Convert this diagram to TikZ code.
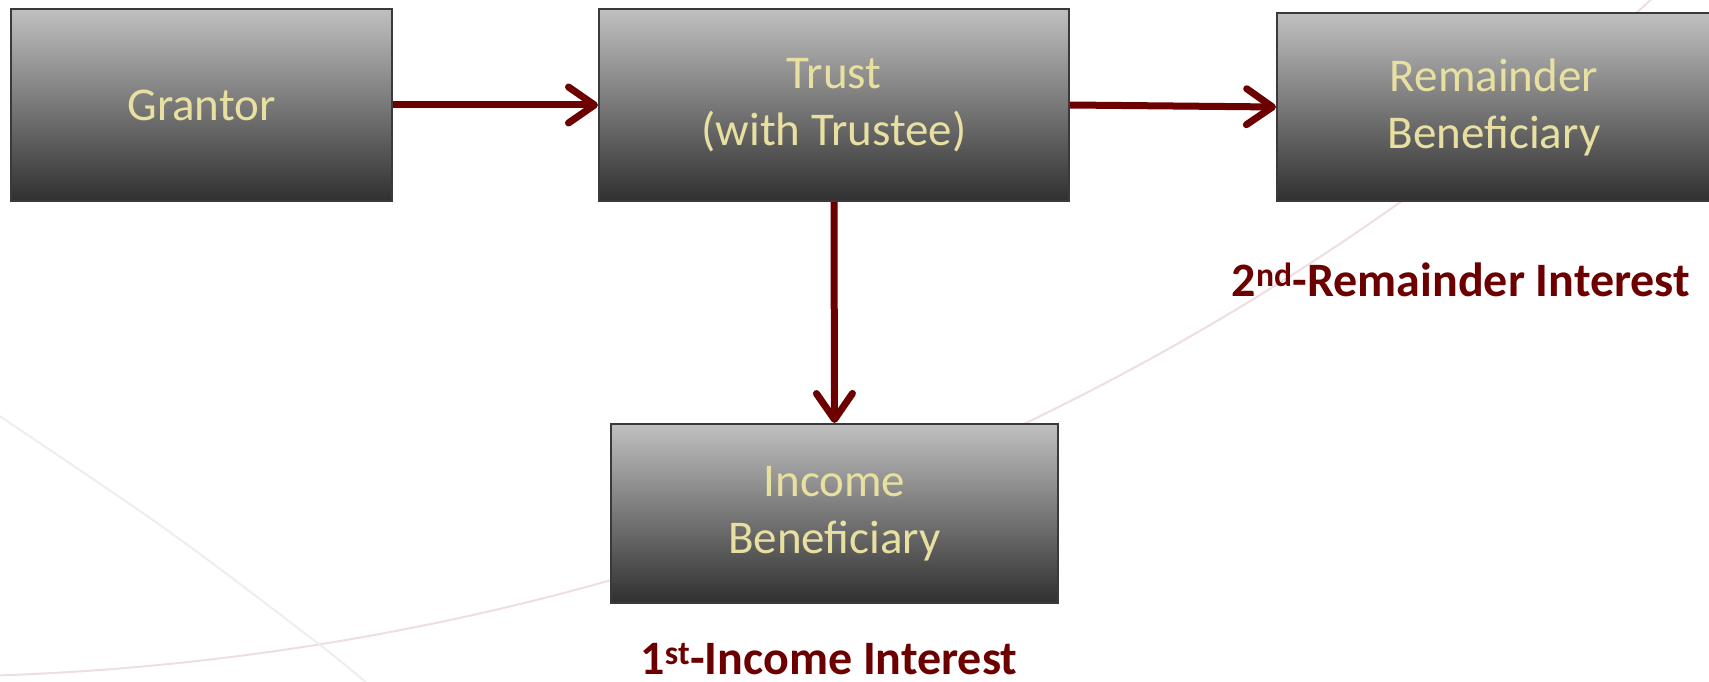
\documentclass[tikz,border=0pt]{standalone}
\usepackage{fontspec}
\setmainfont{Carlito}
\usetikzlibrary{arrows.meta}

\definecolor{boxtop}{RGB}{192,192,192}
\definecolor{boxmid}{RGB}{138,138,138}
\definecolor{boxbot}{RGB}{48,48,48}
\definecolor{boxedge}{RGB}{58,58,58}
\definecolor{boxtext}{RGB}{232,224,160}
\definecolor{flowred}{RGB}{108,0,0}
\definecolor{arcpink}{RGB}{238,222,226}
\definecolor{arcgrey}{RGB}{238,238,238}

\begin{document}
\begin{tikzpicture}[x=1pt,y=-1pt,
  partybox/.style={draw=boxedge, line width=2pt,
    top color=boxtop, middle color=boxmid, bottom color=boxbot,
    text=boxtext, font=\fontsize{47}{57}\selectfont,
    align=center, inner sep=0pt},
  flow/.style={draw=flowred, line width=7pt,
    -{Straight Barb[length=26pt,width=36pt,round]}},
  interest/.style={text=flowred, font=\bfseries\fontsize{48}{56}\selectfont,
    inner sep=0pt, anchor=base}]

  % canvas
  \useasboundingbox (0,0) rectangle (1709,682);
  \fill[white] (0,0) rectangle (1709,682);

  % faint decorative arcs in the background
  \begin{scope}
    \clip (0,0) rectangle (1709,682);
    \draw[arcpink, line width=2pt] (-92,-1904) circle[radius=2581pt];
    \draw[arcgrey, line width=2pt] plot[smooth] coordinates
      {(-5,413) (167,530) (320,645) (375,690)};
  \end{scope}

  % parties
  \node[partybox, minimum width=381pt, minimum height=192pt]
    (grantor) at (201.5,105) {Grantor};
  \node[partybox, minimum width=470pt, minimum height=192pt]
    (trust) at (834,105) {Trust\\(with Trustee)};
  \node[partybox, minimum width=434pt, minimum height=188pt]
    (remainder) at (1494,107) {Remainder\\Beneficiary};
  \node[partybox, minimum width=447pt, minimum height=179pt]
    (income) at (834.5,513.5) {Income\\Beneficiary};

  % interest labels
  \node[interest] (remlabel) at (1461,296)
    {2\textsuperscript{nd}-Remainder Interest};
  \node[interest] (inclabel) at (829,674)
    {1\textsuperscript{st}-Income Interest};

  % transfers
  \draw[flow] (grantor.east) -- (trust.west);
  \draw[flow] (trust.east) -- (remainder.west);
  \draw[flow] (trust.south) -- (income.north);
\end{tikzpicture}
\end{document}
